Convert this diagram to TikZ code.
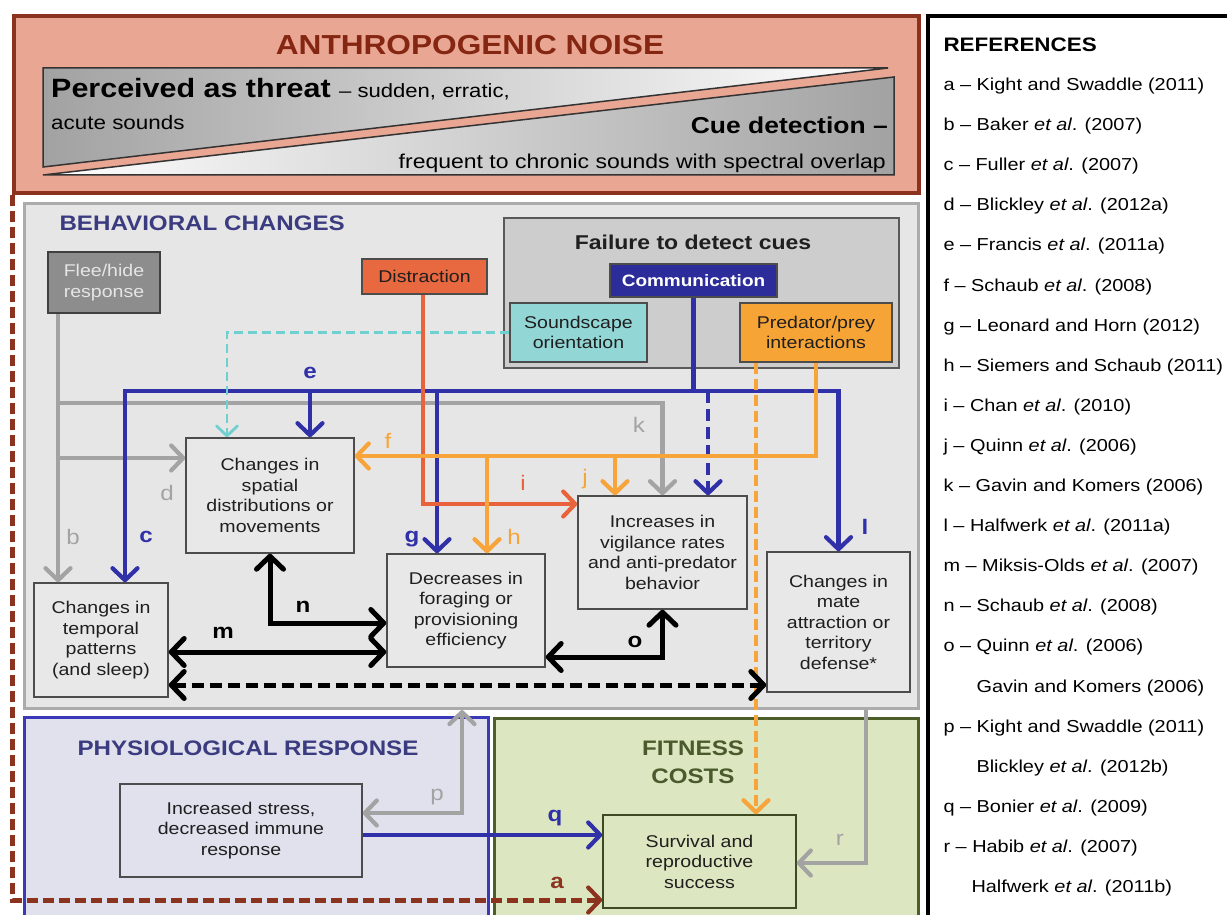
\documentclass[tikz,border=0pt]{standalone}
\usepackage{fontspec}
\setmainfont{Liberation Sans}[FakeStretch=1.15]
\usetikzlibrary{arrows.meta, calc, positioning}

\definecolor{noisefill}{HTML}{E9A693}
\definecolor{noiseline}{HTML}{8C3320}
\definecolor{noisetext}{HTML}{842612}
\definecolor{bandgray}{HTML}{A2A2A2}
\definecolor{behavfill}{HTML}{E6E6E6}
\definecolor{behavline}{HTML}{ABABAB}
\definecolor{navytext}{HTML}{3B3B80}
\definecolor{failfill}{HTML}{CDCDCD}
\definecolor{fleefill}{HTML}{8D8D8D}
\definecolor{distrfill}{HTML}{E8683F}
\definecolor{commfill}{HTML}{2C2C9A}
\definecolor{soundfill}{HTML}{93D6D6}
\definecolor{predfill}{HTML}{F6A436}
\definecolor{boxfill}{HTML}{E8E8E8}
\definecolor{linegray}{HTML}{A3A3A3}
\definecolor{lineblue}{HTML}{3030A8}
\definecolor{linecyan}{HTML}{6FD0D0}
\definecolor{linered}{HTML}{E8633C}
\definecolor{lineorange}{HTML}{F7A43A}
\definecolor{physfill}{HTML}{E1E1EE}
\definecolor{physline}{HTML}{3A3AB8}
\definecolor{fitfill}{HTML}{DCE6C0}
\definecolor{fitline}{HTML}{4D5E2B}
\definecolor{fittext}{HTML}{4A5A2C}

\newcommand\fsz[2]{\fontsize{#1}{#2}\selectfont}

\begin{document}
\begin{tikzpicture}[x=1pt, y=-1pt,
	>={Straight Barb[length=12pt, width=25pt, line width=4.2pt, round]},
	region/.style={inner sep=0pt, line width=3pt, anchor=north west},
	box/.style={draw=black!70, fill=boxfill, line width=1.4pt, align=center, inner sep=0pt, text=black!88, font=\fsz{17}{20.5}},
	lab/.style={font=\fsz{21}{22}},
	blab/.style={font=\fsz{21}{22}\bfseries},
	ref/.style={anchor=base west, font=\fsz{17.3}{20}},
	garr/.style={draw=linegray, line width=4.5pt},
	barr/.style={draw=lineblue, line width=4.5pt},
	carr/.style={draw=linecyan, line width=2.8pt, dash pattern=on 9pt off 5pt},
	rarr/.style={draw=linered, line width=4.5pt},
	oarr/.style={draw=lineorange, line width=4pt},
	karr/.style={draw=black, line width=5pt, >={Straight Barb[length=13pt, width=27pt, line width=5pt, round]}},
	brarr/.style={draw=noiseline, line width=5pt, dash pattern=on 11pt off 5pt}
]
		\path[use as bounding box] (0,0) rectangle (1227,915);
		\clip (0,0) rectangle (1227,915);
		
		% frames
		\node[region, draw=noiseline, fill=noisefill, line width=4pt, minimum width=905, minimum height=177] (noise) at (12,14) {};
		\node[region, draw=black, fill=white, line width=4pt, minimum width=320, minimum height=920] (refs) at (926,14) {};
		\node[region, draw=behavline, fill=behavfill, minimum width=894, minimum height=505] (behav) at (23,202) {};
		\node[region, draw=physline, fill=physfill, minimum width=464, minimum height=220] (phys) at (23,716) {};
		\node[region, draw=fitline, fill=fitfill, minimum width=424, minimum height=220] (fit) at (493,717) {};
		\node[region, draw=black!65, fill=failfill, line width=1.5pt, minimum width=395, minimum height=150] (fail) at (503,217) {};
		
		\node[font=\fsz{27.5}{30}\bfseries, text=noisetext] (noisetitle) at (470,45) {ANTHROPOGENIC NOISE};
		\shadedraw[left color=bandgray, right color=white, draw=black!80, line width=1.5pt] (43,68) -- (888,68) -- (43,167) -- cycle;
		\shadedraw[left color=white, right color=bandgray, draw=black!80, line width=1.5pt] (43,175) -- (894,175) -- (894,77) -- cycle;
		\node[anchor=base west, inner sep=0pt] (threat) at (51,98) {\fsz{26.5}{28}\bfseries Perceived as threat \fsz{19.2}{21}\mdseries -- sudden, erratic,};
		\node[anchor=base west, inner sep=0pt, font=\fsz{19.5}{21}] (acute) at (51,130) {acute sounds};
		\node[anchor=base east, inner sep=0pt, font=\fsz{23}{25}\bfseries] (cue) at (888,134) {Cue detection --};
		\node[anchor=base east, inner sep=0pt, font=\fsz{20}{22}] (chronic) at (886,168) {frequent to chronic sounds with spectral overlap};
		
		\node[anchor=west, font=\fsz{21}{23}\bfseries, text=navytext] (behavtitle) at (56,223) {BEHAVIORAL CHANGES};
		\node[font=\fsz{21}{23}\bfseries, text=navytext] (phystitle) at (248,748) {PHYSIOLOGICAL RESPONSE};
		\node[align=center, font=\fsz{21}{28}\bfseries, text=fittext] (fittitle) at (693,762) {FITNESS\\COSTS};
		\node[font=\fsz{20}{22}\bfseries, text=black!88] (failtitle) at (693,242) {Failure to detect cues};
		
		% boxes
		\node[box, fill=fleefill, draw=black!75, text=white!90!black, minimum width=112, minimum height=61] (flee) at (104,282.5) {Flee/hide\\response};
		\node[box, fill=distrfill, minimum width=125, minimum height=35] (distr) at (424.5,276.5) {Distraction};
		\node[box, fill=commfill, text=white, font=\fsz{16.5}{19}\bfseries, minimum width=167, minimum height=33] (comm) at (693.5,280.5) {Communication};
		\node[box, fill=soundfill, minimum width=137, minimum height=59] (sound) at (578.5,332.5) {Soundscape\\orientation};
		\node[box, fill=predfill, minimum width=152, minimum height=59] (pred) at (816,332.5) {Predator/prey\\interactions};
		\node[box, minimum width=168, minimum height=115] (spatial) at (270,495.5) {Changes in\\spatial\\distributions or\\movements};
		\node[box, minimum width=134, minimum height=114] (temporal) at (101,640) {Changes in\\temporal\\patterns\\(and sleep)};
		\node[box, minimum width=158, minimum height=113] (forage) at (466,610.5) {Decreases in\\foraging or\\provisioning\\efficiency};
		\node[box, minimum width=169, minimum height=113] (vigil) at (662.5,552.5) {Increases in\\vigilance rates\\and anti-predator\\behavior};
		\node[box, minimum width=143, minimum height=140] (mate) at (838.5,622) {Changes in\\mate\\attraction or\\territory\\defense*};
		\node[box, fill=physfill, minimum width=242, minimum height=93] (stress) at (241,830.5) {Increased stress,\\decreased immune\\response};
		\node[box, fill=fitfill, draw=fitline!80!black, minimum width=193, minimum height=93] (surv) at (699.5,861.5) {Survival and\\reproductive\\success};
		
		% connectors
		\coordinate (fk) at (58,403);
		\coordinate (fd) at (58,458);
		\draw[garr, ->] (flee.south -| 58,0) -- (temporal.north -| 58,0);
		\draw[garr, ->] (fd) -- (spatial.west |- fd);
		\draw[garr, ->] (fk) -| (vigil.north);
		
		\coordinate (cl) at (125,391);
		\coordinate (cr) at (838.5,391);
		\coordinate (ce) at (310,391);
		\coordinate (cg) at (437,391);
		\coordinate (cv) at (708,391);
		\draw[barr] (comm.south) -- (comm.south |- cl);
		\draw[barr, ->] (comm.south |- cl) -- (cl) -- (temporal.north -| cl);
		\draw[barr, ->] (comm.south |- cl) -- (cr) -- (mate.north);
		\draw[barr, ->] (ce) -- (spatial.north -| ce);
		\draw[barr, ->] (cg) -- (forage.north -| cg);
		\draw[barr, ->, dash pattern=on 12pt off 6pt] (cv) -- (vigil.north -| cv);
		
		\draw[carr, -{Straight Barb[length=10pt, width=21pt, line width=2.8pt, round]}] (sound.west) -| (spatial.north -| 227,0);
		
		\draw[rarr, ->] (distr.south -| 423,0) |- (vigil.west |- 0,504);
		
		\coordinate (ph) at (487,456);
		\coordinate (pj) at (615,456);
		\draw[oarr, ->] (pred.south) |- (spatial.east |- ph);
		\draw[oarr, ->] (ph) -- (forage.north -| ph);
		\draw[oarr, ->] (pj) -- (vigil.north -| pj);
		\draw[oarr, ->, dash pattern=on 11pt off 5pt] (pred.south -| 756,0) -- (surv.north -| 756,0);
		
		\draw[karr, <->] (spatial.south) |- (forage.west |- 0,623);
		\draw[karr, <->] (temporal.east |- 0,652) -- (forage.west |- 0,652);
		\draw[karr, <->] (forage.east |- 0,657) -| (vigil.south);
		\draw[karr, <->, dash pattern=on 12pt off 6pt] (temporal.east |- 0,685) -- (mate.west |- 0,685);
		
		\draw[garr, <->] (stress.east |- 0,813) -| (behav.south -| 462,0);
		\draw[barr, ->] (stress.east |- 0,835) -- (surv.west |- 0,835);
		\draw[garr, ->] (behav.south -| 866,0) |- (surv.east |- 0,863);
		\draw[brarr, ->] (noise.south -| 12,0) |- (surv.west |- 0,900);
		
		% labels
		\node[blab, text=noiseline] (la) at (557,883) {a};
		\node[lab, text=linegray] (lb) at (73,537) {b};
		\node[blab, text=lineblue] (lc) at (146,537) {c};
		\node[lab, text=linegray] (ld) at (167,493) {d};
		\node[blab, text=lineblue] (le) at (310,373) {e};
		\node[lab, text=lineorange] (lf) at (388,441) {f};
		\node[blab, text=lineblue] (lg) at (412,539) {g};
		\node[lab, text=lineorange] (lh) at (514,537) {h};
		\node[lab, text=linered] (li) at (523,483) {i};
		\node[lab, text=lineorange] (lj) at (585,479) {j};
		\node[lab, text=linegray] (lk) at (639,425) {k};
		\node[blab, text=lineblue] (ll) at (865,527) {l};
		\node[blab] (lm) at (223,633) {m};
		\node[blab] (ln) at (303,607) {n};
		\node[blab] (lo) at (635,642) {o};
		\node[lab, text=linegray] (lp) at (437,797) {p};
		\node[blab, text=lineblue] (lq) at (555,818) {q};
		\node[lab, text=linegray] (lr) at (840,840) {r};
		
		% references
		\node[anchor=west, font=\fsz{19.5}{22}\bfseries] (reftitle) at (940,45) {REFERENCES};
		\node[ref] (ra) at (940,91) {a -- Kight and Swaddle (2011)};
		\node[ref] (rb) at (940,131) {b -- Baker \textit{et al}. (2007)};
		\node[ref] (rc) at (940,171) {c -- Fuller \textit{et al}. (2007)};
		\node[ref] (rd) at (940,211) {d -- Blickley \textit{et al}. (2012a)};
		\node[ref] (re) at (940,251) {e -- Francis \textit{et al}. (2011a)};
		\node[ref] (rf) at (940,291) {f -- Schaub \textit{et al}. (2008)};
		\node[ref] (rg) at (940,331) {g -- Leonard and Horn (2012)};
		\node[ref] (rh) at (940,371) {h -- Siemers and Schaub (2011)};
		\node[ref] (ri) at (940,411) {i -- Chan \textit{et al}. (2010)};
		\node[ref] (rj) at (940,451) {j -- Quinn \textit{et al}. (2006)};
		\node[ref] (rk) at (940,491) {k -- Gavin and Komers (2006)};
		\node[ref] (rl) at (940,531) {l -- Halfwerk \textit{et al}. (2011a)};
		\node[ref] (rm) at (940,571) {m -- Miksis-Olds \textit{et al}. (2007)};
		\node[ref] (rn) at (940,611) {n -- Schaub \textit{et al}. (2008)};
		\node[ref] (ro) at (940,651) {o -- Quinn \textit{et al}. (2006)};
		\node[ref] (ro2) at (973,692) {Gavin and Komers (2006)};
		\node[ref] (rp) at (940,732) {p -- Kight and Swaddle (2011)};
		\node[ref] (rp2) at (973,772) {Blickley \textit{et al}. (2012b)};
		\node[ref] (rq) at (940,812) {q -- Bonier \textit{et al}. (2009)};
		\node[ref] (rr) at (940,852) {r -- Habib \textit{et al}. (2007)};
		\node[ref] (rr2) at (968,892) {Halfwerk \textit{et al}. (2011b)};
\end{tikzpicture}
\end{document}
